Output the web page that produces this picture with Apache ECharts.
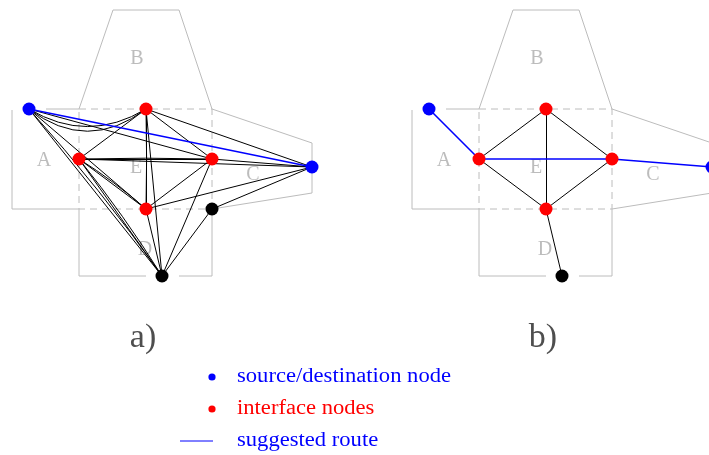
<!DOCTYPE html>
<html>
<head>
<meta charset="utf-8">
<script src="https://cdn.jsdelivr.net/npm/echarts@6/dist/echarts.min.js"></script>
<style>
  html, body { margin: 0; padding: 0; background: #fff; }
  #chart { width: 709px; height: 455px; }
</style>
</head>
<body>
<div id="chart"></div>
<script>
// Node positions in panel coordinates (one unit per pixel, y grows downward)
const nodeNames = ['S', 'T', 'L', 'R', 'M', 'G', 'K1', 'K2'];
const nodeX = [29, 146, 79, 212, 146, 312, 212, 162];
const nodeY = [109, 109, 159, 159, 209, 167, 209, 276];
const nodeKind = ['end', 'iface', 'iface', 'iface', 'iface', 'end', 'plain', 'plain'];

// Region outlines, shared by both panels
const regionSolid = [
  [[46, 109], [79, 109]],
  [[12, 110], [12, 209], [79, 209]],
  [[79, 109], [113, 10], [179, 10], [212, 109]],
  [[212, 109], [312, 143], [312, 193], [212, 209]],
  [[146, 276], [79, 276], [79, 209]],
  [[179, 276], [212, 276], [212, 209]]
];
const regionDashed = [
  [[79, 109], [212, 109], [212, 209], [79, 209], [79, 109]]
];
const regionLabels = ['A', 'B', 'C', 'D', 'E'];
const regionLabelX = [44, 137, 253, 145, 136];
const regionLabelY = [161, 59, 175, 250, 168];

// Panel a): all candidate links between nodes
const edgesA = [
  ['S', 'T'], ['S', 'T'], ['S', 'R'], ['S', 'M'], ['S', 'K2'], ['S', 'K2'],
  ['L', 'T'], ['L', 'R'], ['L', 'R'], ['L', 'M'], ['L', 'M'], ['L', 'K2'], ['L', 'K2'], ['L', 'G'],
  ['T', 'R'], ['T', 'G'], ['T', 'M'], ['T', 'M'], ['T', 'K2'],
  ['R', 'G'], ['R', 'M'], ['R', 'K2'],
  ['M', 'G'], ['M', 'K2'], ['K1', 'G'], ['K1', 'K2']
];
const edgeBendA = [
  -0.3, -0.38, 0, 0, 0, 0.03,
  0, 0, 0.012, 0, 0.04, 0, 0.03, 0,
  0, 0, 0, 0.012, 0,
  0, 0, 0,
  0, 0, 0, 0
];
const routeA = [['S', 'G']];
const nodesA = ['S', 'T', 'L', 'R', 'M', 'G', 'K1', 'K2'];

// Panel b): reduced graph over interface nodes
const edgesB = [['L', 'T'], ['T', 'R'], ['R', 'M'], ['M', 'L'], ['T', 'M'], ['M', 'K2']];
const routeB = [['S', 'L'], ['L', 'R'], ['R', 'G']];
const nodesB = ['S', 'T', 'L', 'R', 'M', 'G', 'K2'];

const panelCaptions = ['a)', 'b)'];
const captionX = 143, captionY = 338;

const legendLabels = ['source/destination node', 'interface nodes', 'suggested route'];
const legendKinds = ['dot', 'dot', 'line'];
const legendColors = ['#0000ff', '#ff0000', '#0000ff'];

const BLUE = '#0000ff', RED = '#ff0000', GREY = '#bcbcbc';
const SERIF = '"Liberation Serif", "DejaVu Serif", serif';
const kindColor = { end: BLUE, iface: RED, plain: '#000000' };

function pos(n) {
  const i = nodeNames.indexOf(n);
  return [nodeX[i], nodeY[i]];
}

function panelSeries(idx, edges, bends, route, nodes) {
  const ax = { xAxisIndex: idx, yAxisIndex: idx, clip: false, silent: true };
  return [
    Object.assign({
      type: 'lines', coordinateSystem: 'cartesian2d', polyline: true, z: 1,
      lineStyle: { color: GREY, width: 1, opacity: 1 },
      data: regionSolid.map(c => ({ coords: c }))
    }, ax),
    Object.assign({
      type: 'lines', coordinateSystem: 'cartesian2d', polyline: true, z: 1,
      lineStyle: { color: GREY, width: 1, opacity: 1, type: [7, 5] },
      data: regionDashed.map(c => ({ coords: c }))
    }, ax),
    Object.assign({
      type: 'scatter', symbolSize: 0, z: 2,
      label: {
        show: true, position: 'inside', formatter: p => p.name,
        color: '#ababab', fontFamily: SERIF, fontSize: 20
      },
      data: regionLabels.map((t, i) => ({ name: t, value: [regionLabelX[i], regionLabelY[i]] }))
    }, ax),
    Object.assign({
      type: 'lines', coordinateSystem: 'cartesian2d', z: 3,
      lineStyle: { color: '#000', width: 1, opacity: 1 },
      data: edges.map((e, i) => ({
        coords: [pos(e[0]), pos(e[1])],
        lineStyle: { curveness: bends ? bends[i] : 0 }
      }))
    }, ax),
    Object.assign({
      type: 'lines', coordinateSystem: 'cartesian2d', z: 4,
      lineStyle: { color: BLUE, width: 1.6, opacity: 1 },
      data: route.map(e => ({ coords: [pos(e[0]), pos(e[1])] }))
    }, ax),
    Object.assign({
      type: 'scatter', symbol: 'circle', symbolSize: 13, z: 5,
      data: nodes.map(n => {
        const i = nodeNames.indexOf(n);
        return { value: [nodeX[i], nodeY[i]], itemStyle: { color: kindColor[nodeKind[i]], opacity: 1 } };
      })
    }, ax),
    Object.assign({
      type: 'scatter', symbolSize: 0, z: 2,
      label: {
        show: true, position: 'inside', formatter: p => p.name,
        color: '#222', fontFamily: SERIF, fontSize: 34
      },
      data: [{ name: panelCaptions[idx], value: [captionX, captionY] }]
    }, ax)
  ];
}

// Legend: marker and label per row, labels widened to the serif look of the figure
const legendGraphics = [];
legendLabels.forEach((t, i) => {
  const y = 377 + i * 32;
  if (legendKinds[i] === 'dot') {
    legendGraphics.push({ type: 'circle', shape: { cx: 212, cy: y, r: 3.6 }, style: { fill: legendColors[i] } });
  } else {
    legendGraphics.push({ type: 'line', shape: { x1: 180, y1: y, x2: 213, y2: y }, style: { stroke: legendColors[i], lineWidth: 1 } });
  }
  legendGraphics.push({
    type: 'text', x: 237, y: y, scaleX: 1.13,
    style: { text: t, fill: legendColors[i], font: '20px ' + SERIF, verticalAlign: 'middle', align: 'left' }
  });
});

const axisBase = { type: 'value', show: false };
const option = {
  animation: false,
  backgroundColor: '#ffffff',
  grid: [
    { left: 0, top: 0, width: 400, height: 455 },
    { left: 400, top: 0, width: 309, height: 455 }
  ],
  xAxis: [
    Object.assign({ gridIndex: 0, min: 0, max: 400 }, axisBase),
    Object.assign({ gridIndex: 1, min: 0, max: 309 }, axisBase)
  ],
  yAxis: [
    Object.assign({ gridIndex: 0, min: 0, max: 455, inverse: true }, axisBase),
    Object.assign({ gridIndex: 1, min: 0, max: 455, inverse: true }, axisBase)
  ],
  graphic: legendGraphics,
  series: [].concat(
    panelSeries(0, edgesA, edgeBendA, routeA, nodesA),
    panelSeries(1, edgesB, null, routeB, nodesB)
  )
};

const chart = echarts.init(document.getElementById('chart'), null, { renderer: 'canvas' });
chart.setOption(option);
</script>
</body>
</html>
